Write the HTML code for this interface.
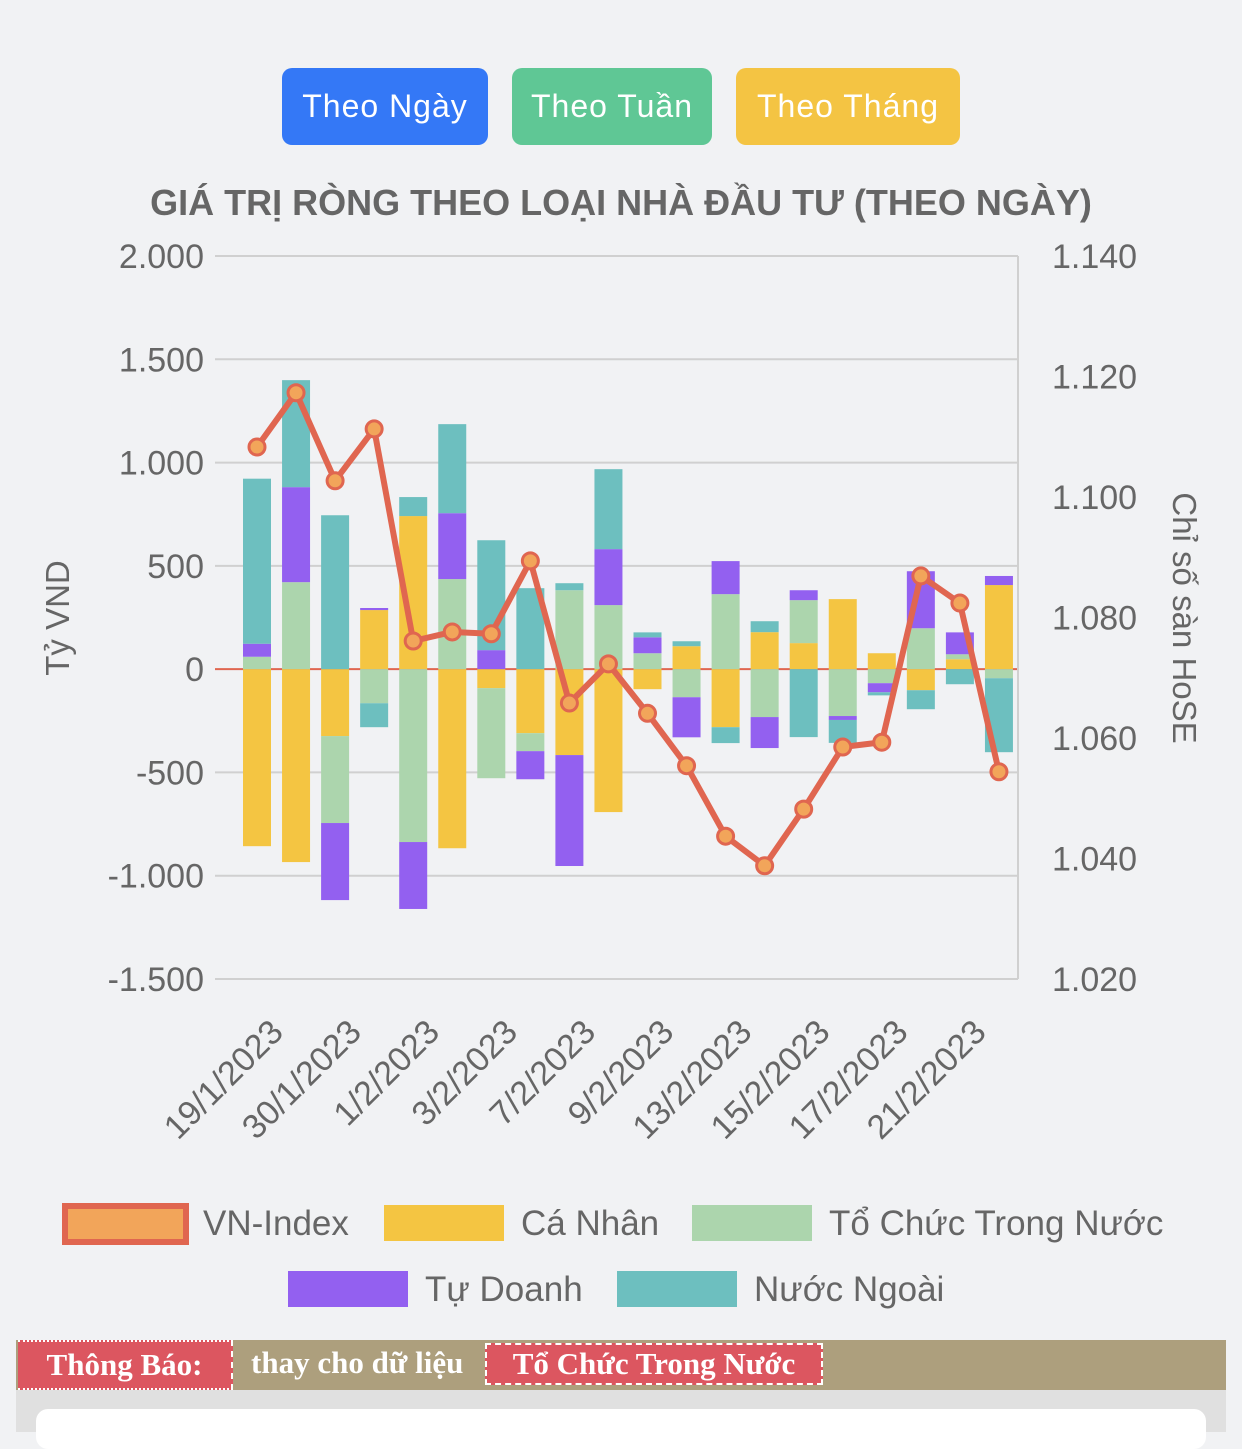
<!DOCTYPE html>
<html><head><meta charset="utf-8">
<style>
body{margin:0;width:1242px;height:1432px;background:#f1f2f4;font-family:"Liberation Sans",sans-serif;overflow:hidden;position:relative}
.btn{position:absolute;top:68px;height:77px;border-radius:10px;color:#fff;font-size:32px;line-height:77px;text-align:center;letter-spacing:1px}
.banner{position:absolute;left:16px;top:1340px;width:1210px;height:50px;background:#ad9f7d}
.bt{position:absolute;font-family:"Liberation Serif",serif;font-weight:bold;font-size:31px;color:#fff;white-space:nowrap}
</style></head><body>
<div class="btn" style="left:282px;width:206px;background:#3478f6">Theo Ngày</div>
<div class="btn" style="left:512px;width:200px;background:#5fc795">Theo Tuần</div>
<div class="btn" style="left:736px;width:224px;background:#f4c443">Theo Tháng</div>
<svg id="chart" width="1242" height="1330" style="position:absolute;left:0;top:0"></svg>
<div style="position:absolute;left:16px;top:1390px;width:1210px;height:42px;background:#e0e0e0"></div>
<div style="position:absolute;left:36px;top:1409px;width:1170px;height:40px;background:#fff;border-radius:12px"></div>
<div class="banner">
 <div class="bt" style="left:2px;top:0;width:213px;height:46px;background:#dc5660;border-top:2px dotted #fff;border-bottom:2px dotted #fff;border-right:2px dashed #fff;line-height:46px;text-align:center">Thông Báo:</div>
 <div class="bt" style="left:235px;top:0;line-height:46px">thay cho dữ liệu</div>
 <div class="bt" style="left:469px;top:3px;width:334px;height:38px;background:#dc5660;border:2px dashed #fff;line-height:38px;text-align:center">Tổ Chức Trong Nước</div>
</div>
<script>
const labels=["19/1/2023","","30/1/2023","","1/2/2023","","3/2/2023","","7/2/2023","","9/2/2023","","13/2/2023","","15/2/2023","","17/2/2023","","21/2/2023",""];
const caNhan=[-857,-934,-324,286,741,-867,-92,-310,-416,-692,-97,111,-281,179,126,339,77,-102,48,407];
const toChuc=[60,421,-421,-165,-837,436,-436,-87,382,310,77,-136,363,-232,208,-227,-68,198,24,-44];
const tuDoanh=[63,460,-373,10,-324,319,92,-136,-537,271,77,-194,160,-150,48,-19,-44,276,106,44];
const nuocNgoai=[799,518,745,-116,92,431,532,392,34,387,24,24,-77,53,-329,-111,-15,-92,-73,-358];
const vnIndex=[1.1083,1.1173,1.1027,1.1113,1.0761,1.0776,1.0773,1.0894,1.0658,1.0723,1.0641,1.0554,1.0437,1.0388,1.0482,1.0585,1.0593,1.0869,1.0824,1.0544];
const leftTicks=[2000,1500,1000,500,0,-500,-1000,-1500];
const leftTickLabels=["2.000","1.500","1.000","500","0","-500","-1.000","-1.500"];
const rightTicks=[1.14,1.12,1.10,1.08,1.06,1.04,1.02];
const rightTickLabels=["1.140","1.120","1.100","1.080","1.060","1.040","1.020"];
const NS="http://www.w3.org/2000/svg",svg=document.getElementById('chart');
function el(t,a,p){const e=document.createElementNS(NS,t);for(const k in a)e.setAttribute(k,a[k]);(p||svg).appendChild(e);return e;}
const X0=215,X1=1018,Y0=256,Y1=979;
const yL=v=>Y0+(2000-v)/3500*(Y1-Y0);
const yR=v=>Y0+(1.14-v)/0.12*(Y1-Y0);
const xC=i=>257+i*39.05;
let t=el('text',{x:621,y:215,'text-anchor':'middle','font-size':36,'font-weight':'bold',fill:'#666'});
t.textContent='GIÁ TRỊ RÒNG THEO LOẠI NHÀ ĐẦU TƯ (THEO NGÀY)';

leftTicks.forEach((v,i)=>{const g=el('line',{x1:X0,x2:X1,y1:yL(v),y2:yL(v),stroke:v===0?'#e06650':'#d0d0d0','stroke-width':2});

const tx=el('text',{x:204,y:yL(v)+12,'text-anchor':'end','font-size':34,fill:'#666'});tx.textContent=leftTickLabels[i];
});
rightTicks.forEach((v,i)=>{const tx=el('text',{x:1052,y:yR(v)+12,'font-size':34,fill:'#666'});tx.textContent=rightTickLabels[i];
});
el('line',{x1:X1,x2:X1,y1:Y0,y2:Y1,stroke:'#d0d0d0','stroke-width':2});
t=el('text',{transform:'translate(69,618) rotate(-90)','text-anchor':'middle','font-size':33,fill:'#666'});t.textContent='Tỷ VND';

t=el('text',{transform:'translate(1173,618) rotate(90)','text-anchor':'middle','font-size':33,fill:'#666'});t.textContent='Chỉ số sàn HoSE';

const series=[[caNhan,'#f4c542','ca-nhan'],[toChuc,'#acd5ad','to-chuc'],[tuDoanh,'#9360f0','tu-doanh'],[nuocNgoai,'#6dbfbf','nuoc-ngoai']];
labels.forEach((lb,i)=>{let pos=0,neg=0;
 series.forEach(([arr,c,n])=>{const v=arr[i];let a,b;if(v>=0){a=pos;b=pos+v;pos=b;}else{a=neg;b=neg+v;neg=b;}
  const r=el('rect',{x:xC(i)-14,width:28,y:Math.min(yL(a),yL(b)),height:Math.abs(yL(a)-yL(b)),fill:c});
  });
 if(lb){const tx=el('text',{transform:`translate(${xC(i)+28},1034) rotate(-45)`,'text-anchor':'end','font-size':34,fill:'#666'});tx.textContent=lb;
  }
});
const line=el('polyline',{points:vnIndex.map((v,i)=>xC(i)+','+yR(v)).join(' '),fill:'none',stroke:'#e06650','stroke-width':6,'stroke-linejoin':'round'});

vnIndex.forEach((v,i)=>{const c=el('circle',{cx:xC(i),cy:yR(v),r:8,fill:'#f2a55a',stroke:'#e06650','stroke-width':3});
});
const leg=[[62,1203,'VN-Index','#f2a55a','#e06650'],[384,1205,'Cá Nhân','#f4c542'],[692,1205,'Tổ Chức Trong Nước','#acd5ad'],[288,1271,'Tự Doanh','#9360f0'],[617,1271,'Nước Ngoài','#6dbfbf']];
leg.forEach(([x,y,n,f,s])=>{const g=el('g',{});
 if(s)el('rect',{x:x+3,y:y+3,width:121,height:36,fill:f,stroke:s,'stroke-width':6},g);else el('rect',{x:x,y:y,width:120,height:36,fill:f},g);
 const tx=el('text',{x:x+(s?141:137),y:y+(s?32:30),'font-size':35,fill:'#666'},g);tx.textContent=n;});
</script>
</body></html>
